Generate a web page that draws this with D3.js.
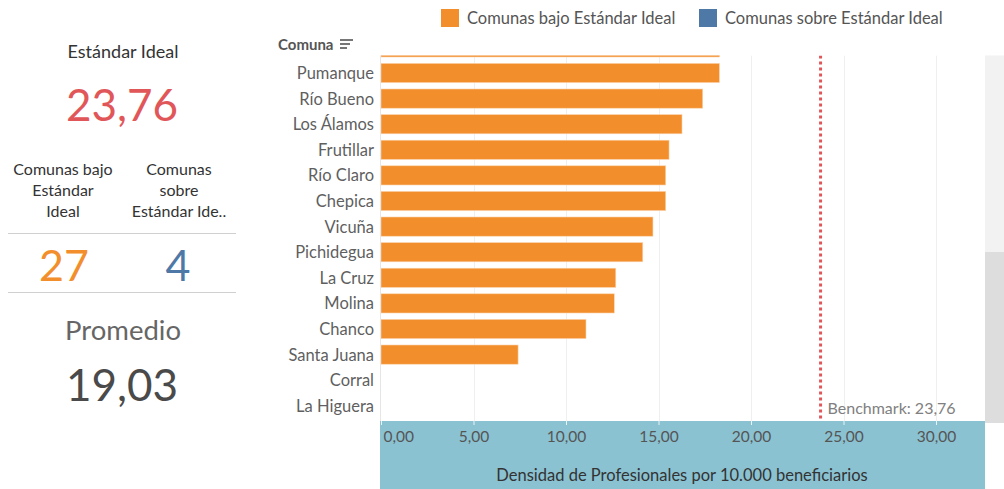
<!DOCTYPE html>
<html><head><meta charset="utf-8">
<script src="https://cdn.jsdelivr.net/npm/d3@7"></script>
<style>
html,body{margin:0;padding:0;background:#fff;}
svg{display:block;font-family:Lato,"Open Sans",sans-serif;}
</style></head>
<body>
<svg id="c" width="1004" height="489"></svg>
<script>
// ---- data ----
const comunas = ["", "Pumanque","Río Bueno","Los Álamos","Frutillar","Río Claro","Chepica","Vicuña","Pichidegua","La Cruz","Molina","Chanco","Santa Juana","Corral","La Higuera"];
const densidad = [18.3, 18.29, 17.39, 16.27, 15.57, 15.39, 15.39, 14.70, 14.15, 12.69, 12.61, 11.08, 7.41, 0, 0];
const xTicks = [0,5,10,15,20,25,30];
const benchmark = 23.76;
const legendLabels = ["Comunas bajo Estándar Ideal","Comunas sobre Estándar Ideal"];
const legendColors = ["#f28e2b","#4e79a7"];
const kpiIdeal = "23,76";
const kpiBajo = 27, kpiSobre = 4;
const kpiPromedio = "19,03";

const svg = d3.select("#c");
const fmt = v => d3.format(".2f")(v).replace(".", ",");

// ---- left KPI panel ----
const L = svg.append("g").attr("text-anchor","middle");
L.append("text").attr("x",123).attr("y",58).attr("font-size",18).attr("fill","#333").text("Estándar Ideal");
L.append("text").attr("x",122).attr("y",121).attr("font-size",44).attr("fill","#e15759").text(kpiIdeal);
[["Comunas bajo","Estándar","Ideal"],["Comunas","sobre","Estándar Ide.."]].forEach((lines,i)=>{
  lines.forEach((t,j)=>L.append("text").attr("x",i?179:63).attr("y",175+j*21).attr("font-size",16).attr("fill","#333").text(t));
});
L.append("line").attr("x1",8).attr("x2",236).attr("y1",233.5).attr("y2",233.5).attr("stroke","#d0d0d0");
L.append("text").attr("x",64).attr("y",281).attr("font-size",43).attr("fill","#f28e2b").text(kpiBajo);
L.append("text").attr("x",178).attr("y",281).attr("font-size",43).attr("fill","#4e79a7").text(kpiSobre);
L.append("line").attr("x1",8).attr("x2",236).attr("y1",292.5).attr("y2",292.5).attr("stroke","#d0d0d0");
L.append("text").attr("x",123).attr("y",340).attr("font-size",27.5).attr("fill","#666").text("Promedio");
L.append("text").attr("x",122).attr("y",401).attr("font-size",44).attr("fill","#4a4a4a").text(kpiPromedio);

// ---- legend ----
const lg = svg.append("g");
const legX = [441, 699];
legendLabels.forEach((t,i)=>{
  lg.append("rect").attr("x",legX[i]).attr("y",9).attr("width",18).attr("height",18).attr("fill",legendColors[i]);
  lg.append("text").attr("x",legX[i]+26).attr("y",24).attr("font-size",16.5).attr("fill","#555").text(t);
});

// ---- chart ----
const plotTop = 55.5, plotBottom = 421, plotLeft = 380.5, plotRight = 958;
const x = d3.scaleLinear().domain([0,30]).range([381, 936]);
const step = 25.6;
const y = d3.scaleBand().domain(comunas.map((d,i)=>i)).range([73 - step*1.5, 73 + step*(comunas.length-1.5)]).paddingInner(0.25).paddingOuter(0.125);

// header
svg.append("text").attr("x",278).attr("y",50).attr("font-size",15).attr("font-weight","bold").attr("fill","#555").text("Comuna");
const icon = svg.append("g").attr("stroke","#555").attr("stroke-width",1.6);
[[340,353],[340,350],[340,347]].forEach((p,i)=>icon.append("line").attr("x1",p[0]).attr("x2",p[1]).attr("y1",40+i*4).attr("y2",40+i*4));

svg.append("defs").append("clipPath").attr("id","clip").append("rect")
  .attr("x",plotLeft).attr("y",plotTop).attr("width",plotRight-plotLeft).attr("height",plotBottom-plotTop);

const plot = svg.append("g").attr("clip-path","url(#clip)");
// gridlines
plot.selectAll("line.grid").data(xTicks.slice(1)).join("line").attr("class","grid")
  .attr("x1",d=>Math.round(x(d))+0.5).attr("x2",d=>Math.round(x(d))+0.5).attr("y1",plotTop).attr("y2",plotBottom)
  .attr("stroke","#efefef");
svg.append("line").attr("x1",plotLeft).attr("x2",plotLeft).attr("y1",plotTop).attr("y2",plotBottom).attr("stroke","#e6e6e6");
// bars
plot.selectAll("rect.bar").data(densidad).join("rect").attr("class","bar")
  .attr("x",x(0)).attr("y",(d,i)=>y(i)).attr("width",d=>x(d)-x(0)).attr("height",y.bandwidth())
  .attr("fill","#f28e2b").attr("stroke","#fbd3ae").attr("stroke-width",0.6);
// benchmark line
plot.append("line").attr("x1",x(benchmark)).attr("x2",x(benchmark)).attr("y1",plotTop).attr("y2",plotBottom)
  .attr("stroke","#e15759").attr("stroke-width",3).attr("stroke-dasharray","3,3");
svg.append("text").attr("x",x(benchmark)+7).attr("y",414).attr("font-size",16).attr("fill","#808080")
  .text("Benchmark: " + fmt(benchmark));

// y labels
const yl = svg.append("g").attr("text-anchor","end").attr("font-size",16.5).attr("fill","#5f5f5f");
comunas.forEach((c,i)=>{ if(c) yl.append("text").attr("x",374).attr("y",y(i)+y.bandwidth()/2+6).text(c); });

// scrollbar
svg.append("rect").attr("x",985).attr("y",plotTop).attr("width",19).attr("height",197).attr("fill","#f2f2f2");
svg.append("rect").attr("x",985).attr("y",252).attr("width",19).attr("height",plotBottom-252+2).attr("fill","#dddddd");

// x axis band
svg.append("rect").attr("x",380).attr("y",plotBottom).attr("width",605).attr("height",489-plotBottom).attr("fill","#8ac2d2");
const ax = svg.append("g").attr("transform",`translate(0,${plotBottom})`)
  .call(d3.axisBottom(x).tickValues(xTicks).tickSize(4).tickFormat(fmt));
ax.select(".domain").remove();
ax.selectAll(".tick line").attr("stroke","#e8f3f6");
ax.selectAll(".tick text").attr("font-size",15.5).attr("fill","#555").attr("font-family",'Lato,"Open Sans",sans-serif').attr("y",10);
ax.selectAll(".tick").filter(d=>d===0).select("text").attr("text-anchor","start").attr("x",2);
svg.append("text").attr("x",682).attr("y",481).attr("text-anchor","middle").attr("font-size",16.5).attr("fill","#333")
  .text("Densidad de Profesionales por 10.000 beneficiarios");
</script>
</body></html>
